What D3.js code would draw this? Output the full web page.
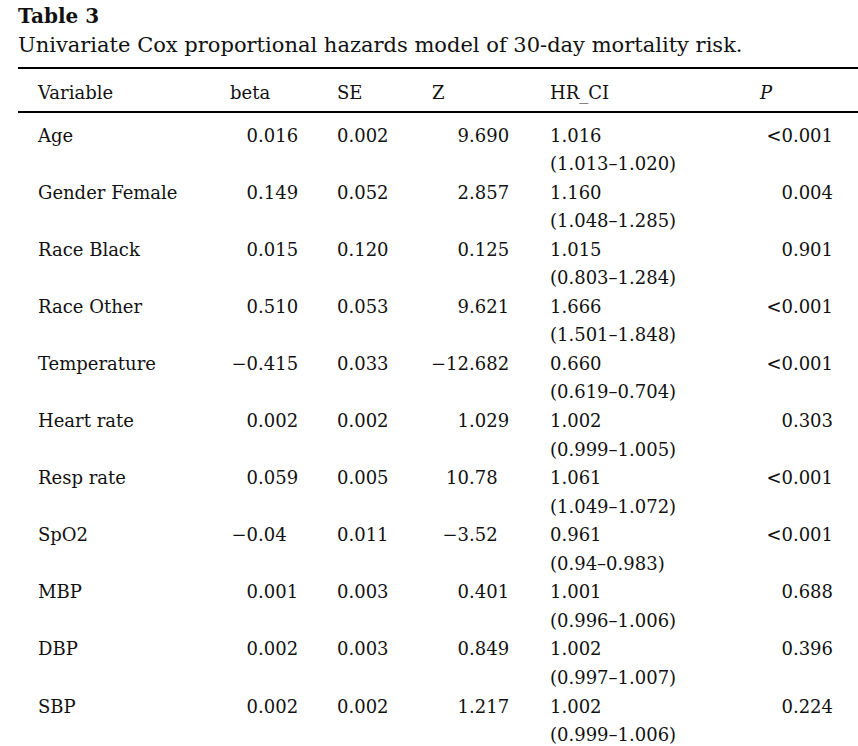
<!DOCTYPE html>
<html>
<head>
<meta charset="utf-8">
<script src="https://cdn.jsdelivr.net/npm/d3@7"></script>
<style>
html,body{margin:0;padding:0;background:#fff;}
svg{display:block;}
</style>
</head>
<body>
<script>
const tableTitle = "Table 3";
const tableSubtitle = "Univariate Cox proportional hazards model of 30-day mortality risk.";
const headers = ["Variable", "beta", "SE", "Z", "HR_CI", "P"];
const variables = ["Age", "Gender Female", "Race Black", "Race Other", "Temperature", "Heart rate", "Resp rate", "SpO2", "MBP", "DBP", "SBP"];
const betaVals = ["0.016", "0.149", "0.015", "0.510", "\u22120.415", "0.002", "0.059", "\u22120.04", "0.001", "0.002", "0.002"];
const seVals = ["0.002", "0.052", "0.120", "0.053", "0.033", "0.002", "0.005", "0.011", "0.003", "0.003", "0.002"];
const zVals = ["9.690", "2.857", "0.125", "9.621", "\u221212.682", "1.029", "10.78", "\u22123.52", "0.401", "0.849", "1.217"];
const hrVals = ["1.016", "1.160", "1.015", "1.666", "0.660", "1.002", "1.061", "0.961", "1.001", "1.002", "1.002"];
const ciLow = ["1.013", "1.048", "0.803", "1.501", "0.619", "0.999", "1.049", "0.94", "0.996", "0.997", "0.999"];
const ciHigh = ["1.020", "1.285", "1.284", "1.848", "0.704", "1.005", "1.072", "0.983", "1.006", "1.007", "1.006"];
const pVals = ["<0.001", "0.004", "0.901", "<0.001", "<0.001", "0.303", "<0.001", "<0.001", "0.688", "0.396", "0.224"];

const W = 858, H = 746;
const FONT = "'DejaVu Serif', serif";
const FS = 18;

const svg = d3.select("body").append("svg").attr("width", W).attr("height", H);

// title
svg.append("text").attr("x", 18).attr("y", 23)
  .attr("font-family", FONT).attr("font-size", 20).attr("font-weight", "bold").attr("fill", "#111")
  .text(tableTitle);
svg.append("text").attr("x", 18).attr("y", 52)
  .attr("font-family", FONT).attr("font-size", 21).attr("fill", "#111")
  .text(tableSubtitle);

// rules
svg.append("line").attr("x1", 18).attr("x2", W).attr("y1", 68).attr("y2", 68).attr("stroke", "#000").attr("stroke-width", 2);
svg.append("line").attr("x1", 18).attr("x2", W).attr("y1", 112).attr("y2", 112).attr("stroke", "#000").attr("stroke-width", 2);

// row scale (baselines)
const y = d3.scaleLinear().domain([0, variables.length - 1]).range([141.5, 712.5]);
const lineGap = 28.5;

// header
const headerX = [38, 230, 337, 432, 550, 760];
headers.forEach((h, i) => {
  svg.append("text").attr("x", headerX[i]).attr("y", 99)
    .attr("font-family", FONT).attr("font-size", FS).attr("fill", "#111")
    .attr("font-style", h === "P" ? "italic" : null)
    .text(h);
});

const g = svg.append("g").attr("font-family", FONT).attr("font-size", FS).attr("fill", "#111");

function decimalCol(vals, decX) {
  vals.forEach((v, i) => {
    const k = v.indexOf(".");
    const intPart = v.slice(0, k), frac = v.slice(k);
    g.append("text").attr("x", decX).attr("y", y(i)).attr("text-anchor", "end").text(intPart);
    g.append("text").attr("x", decX).attr("y", y(i)).attr("text-anchor", "start").text(frac);
  });
}

variables.forEach((v, i) => {
  g.append("text").attr("x", 38).attr("y", y(i)).text(v);
});
decimalCol(betaVals, 258);
seVals.forEach((v, i) => g.append("text").attr("x", 337).attr("y", y(i)).text(v));
decimalCol(zVals, 469);
hrVals.forEach((v, i) => {
  g.append("text").attr("x", 550).attr("y", y(i)).text(v);
  g.append("text").attr("x", 550).attr("y", y(i) + lineGap).text("(" + ciLow[i] + "\u2013" + ciHigh[i] + ")");
});
pVals.forEach((v, i) => g.append("text").attr("x", 833).attr("y", y(i)).attr("text-anchor", "end").text(v));
</script>
</body>
</html>
